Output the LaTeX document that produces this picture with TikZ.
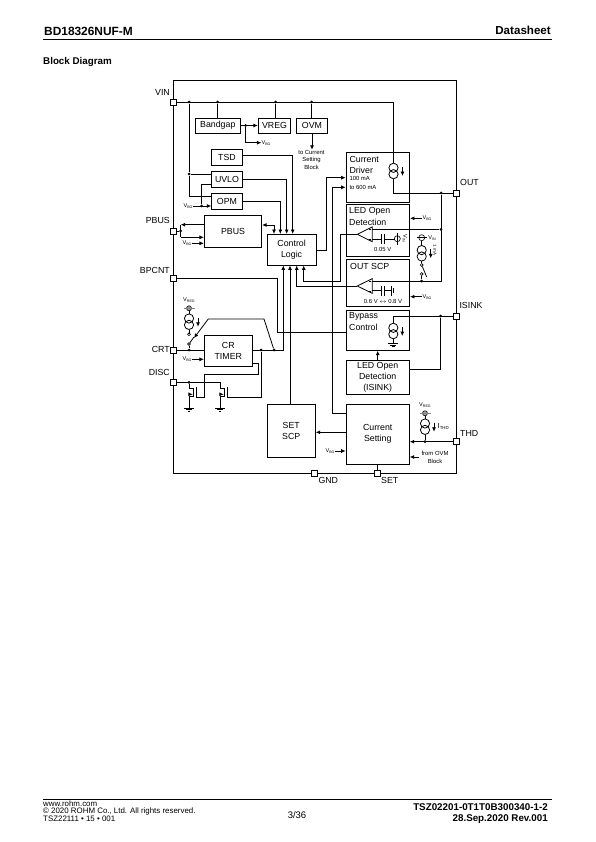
\documentclass[tikz,border=0pt]{standalone}
\usepackage{fontspec}
\setmainfont{Liberation Sans}
\usetikzlibrary{arrows.meta}
\newcommand{\blockfont}{\fontsize{8.8}{11}\selectfont}
\newcommand{\tinyfont}{\fontsize{5.9}{7.5}\selectfont}
\newcommand{\vlabel}[1]{{\fontsize{5.6}{6}\selectfont V\raisebox{-0.8pt}{\fontsize{3.6}{4}\selectfont #1}}}
\tikzset{
  wire/.style={line width=0.8pt},
  blockbox/.style={draw, line width=0.85pt, inner sep=0pt, align=center, font=\blockfont},
  pinbox/.style={draw, line width=0.8pt, fill=white, minimum size=6pt, inner sep=0pt},
  pinlabel/.style={inner sep=0pt, font=\blockfont},
  blocktext/.style={inner sep=0pt, anchor=west, align=left, font=\blockfont},
  smalltext/.style={inner sep=0pt, align=center, font=\tinyfont},
  jdot/.style={circle, fill=black, inner sep=0pt, minimum size=3pt},
  opendot/.style={circle, draw, fill=white, line width=0.6pt, inner sep=0pt, minimum size=2.8pt},
  railbulb/.style={circle, draw, fill=gray!70, line width=0.6pt, inner sep=0pt, minimum size=5pt},
  isrc/.pic={
    \draw[wire, fill=white] (0,-3.2) circle (4.6);
    \draw[wire] (0,3.2) circle (4.6);
    \draw[wire, ->] (9,-4) -- (9,5);
    \coordinate (-top) at (0,-7.8);
    \coordinate (-bot) at (0,7.8);
  },
  gndsym/.pic={
    \draw[wire] (-5,0) -- (5,0);
    \draw[wire] (-3,1.6) -- (3,1.6);
    \draw[wire] (-1.2,3.2) -- (1.2,3.2);
  },
  cmpamp/.pic={
    \draw[wire] (0,0) -- (15,-7.4) -- (15,7.4) -- cycle;
    \draw[line width=0.3pt] (11.5,-4.8) -- (13.5,-4.8);
    \draw[line width=0.3pt] (11.5,4.8) -- (13.5,4.8);
    \coordinate (-out) at (0,0);
  },
  nmossym/.pic={
    \draw[wire] (0,-9) -- (4.5,-9) -- (4.5,-1) -- (0,-1);
    \draw[wire] (7,-10) -- (7,0);
    \draw[wire, ->] (0,-3) -- (3.8,-3);
    \coordinate (-drain) at (0,-9);
    \coordinate (-source) at (0,-1);
    \coordinate (-gate) at (7,0);
  }
}
\begin{document}
\begin{tikzpicture}[x=1pt, y=-1pt, >={Latex[length=4.4pt,width=4pt]}]
  \useasboundingbox (0,0) rectangle (595,842);

  % Page header
  \node[inner sep=0pt, anchor=west, font=\fontsize{11.9}{13}\selectfont\bfseries] (doctitle) at (44,31) {BD18326NUF-M};
  \node[inner sep=0pt, anchor=east, font=\fontsize{11.6}{13}\selectfont\bfseries] (doctype) at (551,30) {Datasheet};
  \draw[line width=1.5pt] (43,39.5) -- (552,39.5);
  \node[inner sep=0pt, anchor=west, font=\fontsize{9.8}{11}\selectfont\bfseries] (heading) at (43,62) {Block Diagram};

  % Package outline and pins
  \node[draw, line width=0.8pt, minimum width=283pt, minimum height=393pt, inner sep=0pt] (chip) at (315,276.5) {};
  \node[pinbox] (pinvin) at (173.5,102) {};
  \node[pinbox] (pinpbus) at (173.5,231) {};
  \node[pinbox] (pinbpcnt) at (173.5,278.3) {};
  \node[pinbox] (pincrt) at (173.5,350) {};
  \node[pinbox] (pindisc) at (173.5,382.3) {};
  \node[pinbox] (pinout) at (456.5,193) {};
  \node[pinbox] (pinisink) at (456.5,316) {};
  \node[pinbox] (pinthd) at (456.5,441.7) {};
  \node[pinbox] (pingnd) at (314.7,473) {};
  \node[pinbox] (pinset) at (377.7,473) {};
  \node[pinlabel, anchor=east] (lblvin) at (170,92.5) {VIN};
  \node[pinlabel, anchor=east] (lblpbus) at (170,220.7) {PBUS};
  \node[pinlabel, anchor=east] (lblbpcnt) at (170,270) {BPCNT};
  \node[pinlabel, anchor=east] (lblcrt) at (170,349) {CRT};
  \node[pinlabel, anchor=east] (lbldisc) at (170,372) {DISC};
  \node[pinlabel, anchor=west] (lblout) at (460,182) {OUT};
  \node[pinlabel, anchor=west] (lblisink) at (459.3,305) {ISINK};
  \node[pinlabel, anchor=west] (lblthd) at (460,433.3) {THD};
  \node[pinlabel, anchor=west] (lblgnd) at (318.3,480.7) {GND};
  \node[pinlabel, anchor=west] (lblset) at (381,480.7) {SET};

  % Blocks
  \node[blockbox, minimum width=44.3pt, minimum height=15pt] (bandgap) at (217.8,125.5) {Bandgap};
  \node[blockbox, minimum width=32.4pt, minimum height=15pt] (vreg) at (274.5,125.5) {VREG};
  \node[blockbox, minimum width=30.6pt, minimum height=15pt] (ovm) at (312,125.5) {OVM};
  \node[blockbox, minimum width=30.6pt, minimum height=15.7pt] (tsd) at (227,157.2) {TSD};
  \node[blockbox, minimum width=30.6pt, minimum height=15.6pt] (uvlo) at (227,179.5) {UVLO};
  \node[blockbox, minimum width=30.6pt, minimum height=16pt] (opm) at (227,201.3) {OPM};
  \node[blockbox, minimum width=57.4pt, minimum height=32pt] (pbus) at (233,231.3) {PBUS};
  \node[blockbox, minimum width=48.7pt, minimum height=30.7pt] (ctrl) at (291.6,249.7) {Control\\Logic};
  \node[blockbox, minimum width=48pt, minimum height=30.3pt] (crtimer) at (228.3,350.8) {CR\\TIMER};
  \node[blockbox, minimum width=48.3pt, minimum height=52.7pt] (setscp) at (291.2,430.7) {SET\\SCP};
  \node[blockbox, minimum width=63.3pt, minimum height=49.6pt] (driver) at (377.7,177.5) {};
  \node[blockbox, minimum width=63.3pt, minimum height=51.7pt] (ledopen) at (378,230.2) {};
  \node[blockbox, minimum width=63.3pt, minimum height=46.7pt] (outscp) at (378,282.7) {};
  \node[blockbox, minimum width=63.3pt, minimum height=39.6pt] (bypass) at (377.7,330.5) {};
  \node[blockbox, minimum width=63.3pt, minimum height=34pt] (ledisink) at (377.7,377.3) {LED Open\\Detection\\(ISINK)};
  \node[blockbox, minimum width=63.3pt, minimum height=60pt] (curset) at (377.7,434.3) {Current\\Setting};
  \node[blocktext] (txtcurrent) at (349.3,159) {Current};
  \node[blocktext] (txtdriver) at (349.3,170.7) {Driver};
  \node[blocktext] (txtledopen) at (349,211.7) {LED Open};
  \node[blocktext] (txtdetect) at (349,222.3) {Detection};
  \node[blocktext] (txtoutscp) at (350,266.7) {OUT SCP};
  \node[blocktext] (txtbypass) at (349,316.7) {Bypass};
  \node[blocktext] (txtcontrol) at (349,327.7) {Control};
  \node[smalltext, anchor=west] (txtlow) at (349.3,178) {100 mA};
  \node[smalltext, anchor=west] (txthigh) at (349.3,187) {to 600 mA};

  % VIN rail and OUT
  \node[jdot] (dotin) at (189,102) {};
  \node[jdot] (dotbg) at (217.5,102) {};
  \node[jdot] (dotreg) at (275.7,102) {};
  \node[jdot] (dotovm) at (311.7,102) {};
  \node[jdot] (dotuvlo) at (189,174) {};
  \node[jdot] (dotout) at (441,193) {};
  \pic (drvsrc) at (393.5,171) {isrc};
  \coordinate (railend) at (393.5,102);
  \coordinate (railout) at (393.5,193);
  \draw[wire] (pinvin) -- (railend) -- (drvsrc-top);
  \draw[wire] (drvsrc-bot) -- (railout) -- (pinout.west);
  \draw[wire] (dotbg) -- (bandgap.north -| dotbg);
  \draw[wire] (dotreg) -- (vreg.north -| dotreg);
  \draw[wire] (dotovm) -- (ovm.north -| dotovm);
  \draw[wire] (dotin) -- (dotuvlo) -- (uvlo.west |- dotuvlo);
  \coordinate (opmin) at (189,196.7);
  \draw[wire] (dotuvlo) -- (opmin) -- (opm.west |- opmin);

  % Bandgap, VREG, OVM
  \node[jdot] (dotvbg) at (245.7,125.5) {};
  \coordinate (vbgturn) at (245.7,142.7);
  \node[inner sep=0pt] (vbgtop) at (266,142.7) {\vlabel{BG}};
  \draw[wire, ->] (bandgap) -- (vreg);
  \draw[wire, ->] (dotvbg) -- (vbgturn) -- (vbgtop.west);
  \node[smalltext] (txttocur) at (311.5,159.5) {to Current\\Setting\\Block};
  \draw[wire, ->] (ovm) -- (txttocur.north -| ovm);

  % UVLO, OPM, TSD into control logic
  \node[inner sep=0pt] (vbgopm) at (188,206) {\vlabel{BG}};
  \node[jdot] (dotopm) at (201.7,206) {};
  \coordinate (uvloin) at (201.7,184.3);
  \draw[wire, ->] (vbgopm.east) -- (opm.west |- vbgopm);
  \draw[wire] (dotopm) -- (uvloin) -- (uvlo.west |- uvloin);
  \coordinate (tsdturn) at (292.7,155);
  \coordinate (uvloturn) at (286.7,179.3);
  \coordinate (opmturn) at (280.3,201.7);
  \draw[wire, ->] (tsd.east |- tsdturn) -- (tsdturn) -- (ctrl.north -| tsdturn);
  \draw[wire, ->] (uvlo.east |- uvloturn) -- (uvloturn) -- (ctrl.north -| uvloturn);
  \draw[wire, ->] (opm.east |- opmturn) -- (opmturn) -- (ctrl.north -| opmturn);
  \coordinate (pbusturn) at (274,225);
  \draw[wire, <->] (pbus.east |- pbusturn) -- (pbusturn) -- (ctrl.north -| pbusturn);

  % PBUS pin
  \node[jdot] (dotpbus) at (180.7,231) {};
  \coordinate (pbusup) at (180.7,224.7);
  \coordinate (pbusdn) at (180.7,237.3);
  \draw[wire] (pinpbus) -- (dotpbus);
  \draw[wire, <-] (pbusup) -- (pbus.west |- pbusup);
  \draw[wire] (pbusup) -- (pbusdn);
  \draw[wire, ->] (pbusdn) -- (pbus.west |- pbusdn);
  \node[inner sep=0pt] (vbgpbus) at (187,243.3) {\vlabel{BG}};
  \draw[wire, ->] (vbgpbus.east) -- (pbus.west |- vbgpbus);

  % Control logic connections
  \coordinate (clin1) at (283.3,350);
  \coordinate (clin2) at (290,350);
  \coordinate (clin3) at (296.7,286);
  \coordinate (clin4) at (303.7,281);
  \pic (ledcmp) at (357.3,234.3) {cmpamp};
  \pic (scpcmp) at (357.3,286) {cmpamp};
  \coordinate (ledturn) at (340,234.3);
  \coordinate (ledturnb) at (340,281);
  \draw[wire, ->] (scpcmp-out) -- (clin3) -- (ctrl.south -| clin3);
  \draw[wire, ->] (ledcmp-out) -- (ledturn) -- (ledturnb) -- (clin4) -- (ctrl.south -| clin4);
  \coordinate (drvhi) at (326.7,177.7);
  \coordinate (ctrlout) at (326.7,250);
  \draw[wire, ->] (ctrl.east |- ctrlout) -- (ctrlout) -- (drvhi) -- (driver.west |- drvhi);
  \coordinate (drvlo) at (332,187.3);
  \coordinate (setturn) at (332,413.3);
  \draw[wire, <-] (driver.west |- drvlo) -- (drvlo) -- (setturn) -- (curset.west |- setturn);
  \coordinate (bpturn) at (277.7,278.3);
  \coordinate (bpturnb) at (277.7,332);
  \draw[wire] (pinbpcnt) -- (bpturn) -- (bpturnb) -- (bypass.west |- bpturnb);
  \draw[wire, ->] (setscp.north -| clin2) -- (ctrl.south -| clin2);

  % LED open and OUT SCP
  \node[inner sep=0pt] (vbgled) at (427,218.3) {\vlabel{BG}};
  \draw[wire, ->] (vbgled.west) -- (ledopen.east |- vbgled);
  \node[inner sep=0pt] (vbgscp) at (427,296.7) {\vlabel{BG}};
  \draw[wire, ->] (vbgscp.west) -- (outscp.east |- vbgscp);
  \node[jdot] (dotled) at (441,229.3) {};
  \node[jdot] (dotsw) at (421.7,281) {};
  \coordinate (outdown) at (441,281);
  \draw[wire] (dotout) -- (outdown) -- (372.3,281);
  \draw[wire] (dotled) -- (372.3,229.3);
  \draw[wire] (372.3,239) -- (381.7,239);
  \draw[wire] (381.7,234) -- (381.7,244);
  \draw[line width=1.1pt] (384.5,234) -- (384.5,244);
  \draw[wire] (384.5,239) -- (394.5,239);
  \node[circle, draw, line width=0.6pt, minimum size=6pt, inner sep=0pt] (ledref) at (397.3,238.7) {};
  \draw[wire] (397.3,232.5) -- (397.3,244.5);
  \node[inner sep=0pt, rotate=-90] (vinrot) at (405,238) {\vlabel{IN}};
  \node[smalltext] (txtthresh) at (382.7,249.3) {0.05 V};
  \node[circle, draw, line width=0.6pt, minimum size=6pt, inner sep=0pt] (vinsrc) at (421.7,237.7) {};
  \draw[wire] (416.5,237.7) -- (426.5,237.7);
  \node[inner sep=0pt] (vintop) at (432,237.7) {\vlabel{IN}};
  \pic (ledsrc) at (421.7,253.3) {isrc};
  \node[inner sep=0pt, rotate=-90, font=\fontsize{4.4}{5}\selectfont] (txtma) at (435,250) {1 mA};
  \node[opendot] (swa) at (421.7,265) {};
  \node[opendot] (swb) at (421.7,274) {};
  \draw[wire] (vinsrc) -- (ledsrc-top);
  \draw[wire] (ledsrc-bot) -- (swa);
  \draw[wire] (swa) -- (426.7,277);
  \draw[wire] (swb) -- (dotsw);
  \draw[wire] (372.3,290.7) -- (381.7,290.7);
  \draw[wire] (381.7,286) -- (381.7,295.7);
  \draw[wire] (384.5,286) -- (384.5,295.7);
  \draw[wire] (384.5,290.7) -- (391.7,290.7);
  \draw[wire] (391.7,286) -- (391.7,295.7);
  \draw[line width=1.1pt] (393.6,288) -- (393.6,293.4);
  \node[smalltext] (txtswing) at (383,301) {0.6 V $\leftrightarrow$ 0.8 V};

  % Bypass control, ISINK
  \pic (bypsrc) at (393.3,331) {isrc};
  \node[jdot] (dotisink) at (440.7,316) {};
  \coordinate (bypturn) at (393.3,316);
  \coordinate (isinkturn) at (440.7,369.3);
  \draw[wire] (pinisink.west) -- (bypturn) -- (bypsrc-top);
  \coordinate (bypgnd) at (393.3,343.5);
  \draw[wire] (bypsrc-bot) -- (bypgnd);
  \pic at (bypgnd) {gndsym};
  \draw[wire] (ledisink.east |- isinkturn) -- (isinkturn) -- (dotisink);
  \draw[wire, ->] (ledisink) -- (bypass.south -| ledisink);

  % Current setting, THD
  \draw[wire] (curset.south) -- (pinset.north);
  \coordinate (setleft) at (346,432.3);
  \draw[wire, ->] (setleft) -- (setscp.east |- setleft);
  \node[inner sep=0pt] (vbgset) at (330,451) {\vlabel{BG}};
  \draw[wire, ->] (vbgset.east) -- (curset.west |- vbgset);
  \node[jdot] (dotthd) at (425,441.7) {};
  \draw[wire, ->] (pinthd.west) -- (curset.east |- pinthd);
  \pic (thdsrc) at (425,426.7) {isrc};
  \node[railbulb] (thdrail) at (425,413.3) {};
  \draw[wire] (thdrail) -- (thdsrc-top);
  \draw[wire] (thdsrc-bot) -- (dotthd);
  \draw[line width=0.5pt, gray] (419.5,413.3) -- (430.5,413.3);
  \node[inner sep=0pt] (vregthd) at (425,405) {\vlabel{REG}};
  \node[inner sep=0pt, anchor=west, font=\fontsize{7.5}{8}\selectfont] (ithd) at (437.5,426.7) {I\raisebox{-0.8pt}{\fontsize{4.4}{5}\selectfont THD}};
  \node[smalltext] (txtfrom) at (435,457.2) {from OVM\\Block};
  \coordinate (fromovm) at (419,457);
  \draw[wire, ->] (fromovm) -- (curset.east |- fromovm);

  % CR timer
  \node[jdot] (dotcrt) at (189,350) {};
  \draw[wire] (pincrt) -- (crtimer.west |- pincrt);
  \node[railbulb] (crtrail) at (189,308.3) {};
  \draw[line width=0.5pt, gray] (183.5,308.3) -- (194.5,308.3);
  \node[inner sep=0pt] (vregcrt) at (189,300) {\vlabel{REG}};
  \pic (crtsrc) at (189,321.7) {isrc};
  \node[opendot] (crta) at (189,334.3) {};
  \node[opendot] (crtb) at (189,344) {};
  \draw[wire] (crtrail) -- (crtsrc-top);
  \draw[wire] (crtsrc-bot) -- (crta);
  \draw[wire] (crtb) -- (dotcrt);
  \draw[wire] (crtb) -- (194,337);
  \node[jdot] (dottim) at (261,350) {};
  \node[jdot] (dotctl) at (274,350) {};
  \draw[wire, ->] (crtimer.east |- dottim) -- (clin1) -- (ctrl.south -| clin1);
  \coordinate (swtopa) at (264,319);
  \coordinate (swtopb) at (208.3,319);
  \coordinate (swtip) at (194,338);
  \draw[wire, ->] (dotctl) -- (swtopa) -- (swtopb) -- (swtip);
  \node[inner sep=0pt] (vbgcr) at (187,359.3) {\vlabel{BG}};
  \draw[wire, ->] (vbgcr.east) -- (crtimer.west |- vbgcr);

  % DISC and discharge transistors
  \node[jdot] (dotdisc) at (189,382.3) {};
  \pic (nmosa) at (189,397.3) {nmossym};
  \pic (nmosb) at (220,397.3) {nmossym};
  \coordinate (disctop) at (220,382.3);
  \draw[wire] (pindisc) -- (disctop) -- (nmosb-drain);
  \draw[wire] (dotdisc) -- (nmosa-drain);
  \coordinate (gndb) at (220,408);
  \coordinate (gnda) at (189,408);
  \draw[wire] (nmosa-source) -- (gnda);
  \draw[wire] (nmosb-source) -- (gndb);
  \pic at (gnda) {gndsym};
  \pic at (gndb) {gndsym};
  \coordinate (gatea) at (204.3,397.3);
  \coordinate (gateaup) at (204.3,374.3);
  \coordinate (gateaout) at (258.3,374.3);
  \coordinate (gateain) at (258.3,363.3);
  \draw[wire] (nmosa-gate) -- (gatea) -- (gateaup) -- (gateaout) -- (gateain) -- (crtimer.east |- gateain);
  \coordinate (gateb) at (261,397.3);
  \draw[wire] (nmosb-gate) -- (gateb) -- (dottim);

  % Page footer
  \draw[line width=0.7pt] (43,799) -- (552,799);
  \node[inner sep=0pt, anchor=west, font=\fontsize{7.9}{9}\selectfont] (footweb) at (43,803.5) {www.rohm.com};
  \node[inner sep=0pt, anchor=west, font=\fontsize{7.9}{9}\selectfont] (footcopy) at (43,811) {© 2020 ROHM Co., Ltd. All rights reserved.};
  \node[inner sep=0pt, anchor=west, font=\fontsize{7.9}{9}\selectfont] (footcode) at (43,818.5) {TSZ22111 • 15 • 001};
  \node[inner sep=0pt, font=\fontsize{9.5}{10}\selectfont] (footpage) at (297,815) {3/36};
  \node[inner sep=0pt, anchor=east, font=\fontsize{9.8}{11}\selectfont\bfseries] (footdoc) at (548,807) {TSZ02201-0T1T0B300340-1-2};
  \node[inner sep=0pt, anchor=east, font=\fontsize{9.8}{11}\selectfont\bfseries] (footrev) at (548,819) {28.Sep.2020 Rev.001};
\end{tikzpicture}
\end{document}
